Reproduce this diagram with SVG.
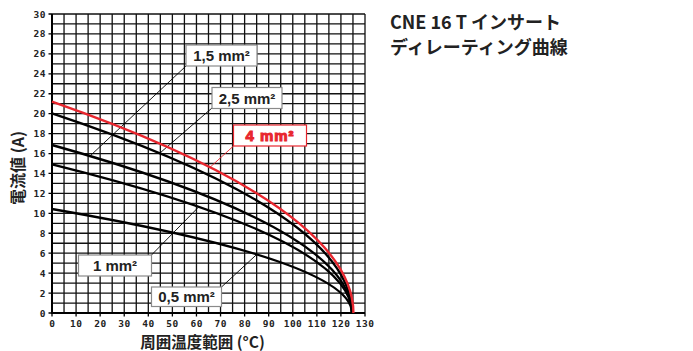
<svg xmlns="http://www.w3.org/2000/svg" width="693" height="351" viewBox="0 0 693 351">
<style>
.grid{fill:none;stroke:#111;stroke-width:1.3}
.axis{fill:none;stroke:#000;stroke-width:2}
.tick{fill:none;stroke:#000;stroke-width:1.3}
.num{font-family:"DejaVu Sans Mono",monospace;font-weight:bold;font-size:9.5px;fill:#222;letter-spacing:0.5px}
.curve{fill:none;stroke:#000;stroke-width:2.4}
.red{stroke:#e8262e}
.lead{fill:none;stroke:#000;stroke-width:0.9}
.lead.red{stroke:#e8262e}
.box{fill:#fff;stroke:#8a8a8a;stroke-width:1.2}
.box.red{stroke:#e8262e}
.lbl{font-family:"Liberation Sans",Arial,sans-serif;font-weight:bold;font-size:15px;fill:#222;text-anchor:middle}
.lbl.red{fill:#e8262e}
.ttl{font-family:"Noto Sans CJK JP","Noto Sans",sans-serif;font-weight:bold;fill:#222}
</style>
<rect width="693" height="351" fill="#fff"/>
<g id="grid">
<path class="grid" d="M52,14V313M64.04,14V313M76.08,14V313M88.12,14V313M100.15,14V313M112.19,14V313M124.23,14V313M136.27,14V313M148.31,14V313M160.35,14V313M172.38,14V313M184.42,14V313M196.46,14V313M208.5,14V313M220.54,14V313M232.58,14V313M244.62,14V313M256.65,14V313M268.69,14V313M280.73,14V313M292.77,14V313M304.81,14V313M316.85,14V313M328.88,14V313M340.92,14V313M352.96,14V313M365,14V313"/>
<path class="grid" d="M52,14H365M52,23.97H365M52,33.93H365M52,43.9H365M52,53.87H365M52,63.83H365M52,73.8H365M52,83.77H365M52,93.73H365M52,103.7H365M52,113.67H365M52,123.63H365M52,133.6H365M52,143.57H365M52,153.53H365M52,163.5H365M52,173.47H365M52,183.43H365M52,193.4H365M52,203.37H365M52,213.33H365M52,223.3H365M52,233.27H365M52,243.23H365M52,253.2H365M52,263.17H365M52,273.13H365M52,283.1H365M52,293.07H365M52,303.03H365M52,313H365"/>
<path class="axis" d="M52,14V313H365"/>
<path class="tick" d="M48.5,14H52M48.5,33.93H52M48.5,53.87H52M48.5,73.8H52M48.5,93.73H52M48.5,113.67H52M48.5,133.6H52M48.5,153.53H52M48.5,173.47H52M48.5,193.4H52M48.5,213.33H52M48.5,233.27H52M48.5,253.2H52M48.5,273.13H52M48.5,293.07H52M48.5,313H52"/>
<path class="tick" d="M52,313V316.5M76.08,313V316.5M100.15,313V316.5M124.23,313V316.5M148.31,313V316.5M172.38,313V316.5M196.46,313V316.5M220.54,313V316.5M244.62,313V316.5M268.69,313V316.5M292.77,313V316.5M316.85,313V316.5M340.92,313V316.5M365,313V316.5"/>
</g>
<g id="y-labels" class="num" text-anchor="end">
<text x="46" y="17.5">30</text><text x="46" y="37.4">28</text><text x="46" y="57.4">26</text><text x="46" y="77.3">24</text><text x="46" y="97.2">22</text><text x="46" y="117.2">20</text><text x="46" y="137.1">18</text><text x="46" y="157">16</text><text x="46" y="177">14</text><text x="46" y="196.9">12</text><text x="46" y="216.8">10</text><text x="46" y="236.8">8</text><text x="46" y="256.7">6</text><text x="46" y="276.6">4</text><text x="46" y="296.6">2</text><text x="46" y="316.5">0</text>
</g>
<g id="x-labels" class="num" text-anchor="middle">
<text x="52.3" y="327">0</text><text x="76.3" y="327">10</text><text x="100.4" y="327">20</text><text x="124.5" y="327">30</text><text x="148.6" y="327">40</text><text x="172.6" y="327">50</text><text x="196.7" y="327">60</text><text x="220.8" y="327">70</text><text x="244.9" y="327">80</text><text x="268.9" y="327">90</text><text x="293" y="327">100</text><text x="317.1" y="327">110</text><text x="341.2" y="327">120</text><text x="365.2" y="327">130</text>
</g>
<g id="connectors">
<path class="lead" d="M186,66L90,156"/>
<path class="lead" d="M212,108L160,153"/>
<path class="lead red" d="M233.5,146L210,167.3"/>
<path class="lead" d="M151.5,255L199,206.6"/>
<path class="lead" d="M221.5,287L257,254.2"/>
</g>
<g id="curves">
<path id="c05" class="curve" d="M52,209Q352,261 352,313"/>
<path id="c1" class="curve" d="M52,164.3Q352,238.65 352,313"/>
<path id="c15" class="curve" d="M52,145Q352,229 352,313"/>
<path id="c25" class="curve" d="M52,113.3Q352,213.15 352,313"/>
<path id="c4" class="curve red" d="M52,101.7Q353.4,207.35 353.4,313"/>
</g>
<g id="label-15"><rect class="box" x="186" y="45" width="71" height="21"/><text class="lbl" x="221.5" y="61">1,5 mm²</text></g>
<g id="label-25"><rect class="box" x="212" y="87.5" width="70" height="21"/><text class="lbl" x="247" y="103.5">2,5 mm²</text></g>
<g id="label-4"><rect class="box red" x="233.5" y="125" width="73" height="21"/><text class="lbl red" x="270" y="141" letter-spacing="1">4 mm²</text></g>
<g id="label-1"><rect class="box" x="78.5" y="255" width="73" height="21"/><text class="lbl" x="115" y="271">1 mm²</text></g>
<g id="label-05"><rect class="box" x="151.5" y="287" width="70" height="19.5"/><text class="lbl" x="186.5" y="302">0,5 mm²</text></g>
<g id="y-title"><text class="ttl" font-size="16" text-anchor="middle" transform="translate(24,168) rotate(-90)">電流値 (A)</text></g>
<g id="x-title"><text class="ttl" font-size="15.5" text-anchor="middle" x="202.5" y="348">周囲温度範囲 (°C)</text></g>
<g id="title">
<text class="ttl" font-size="18" x="390" y="29">CNE 16 T インサート</text>
<text class="ttl" font-size="18" x="390" y="53.5">ディレーティング曲線</text>
</g>
</svg>
